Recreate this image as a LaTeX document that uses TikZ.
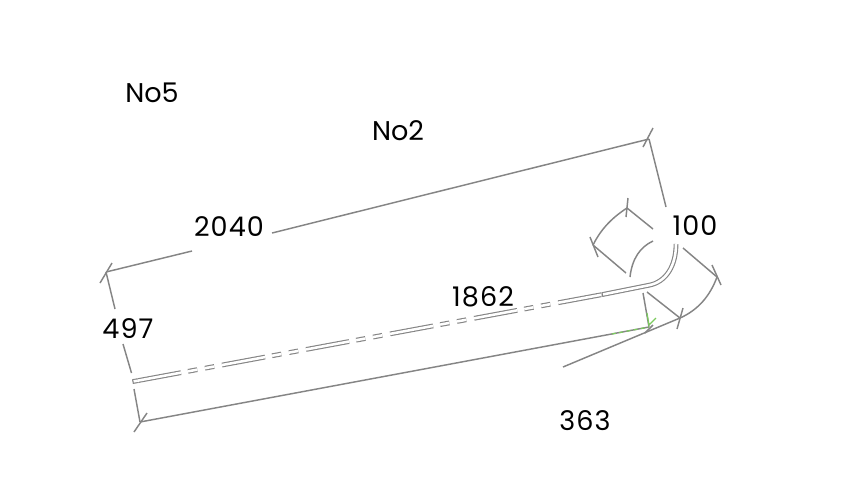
\documentclass[tikz,border=0pt]{standalone}
\usepackage{fontspec}
\setmainfont{Poppins}
\newfontfamily\numfont[LetterSpace=4]{Poppins}
\usetikzlibrary{calc}
\definecolor{dimgray}{HTML}{858585}
\definecolor{markgreen}{HTML}{7CCB5E}
\tikzstyle{dim} = [draw=dimgray,line width=1.1pt]
\tikzstyle{pipe} = [draw=dimgray,line width=0.85pt,double=white,double distance=1.9pt]
\tikzstyle{lbl} = [font=\fontsize{20.3}{21}\selectfont,text=black,inner sep=0pt]
\tikzstyle{num} = [lbl,font=\fontsize{20.3}{21}\selectfont\numfont]

\begin{document}
\begin{tikzpicture}[x=.75pt,y=-.75pt]
        \useasboundingbox (0,0) rectangle (848,480);

        \coordinate (tl) at (106,272);
        \coordinate (tr) at (649,139);
        \coordinate (bl) at (140,422);
        \coordinate (br) at (649,327);
        \coordinate (pa) at (133,381.5);
        \coordinate (pb) at (138,380.6);
        \coordinate (pc) at (602,294.6);
        \coordinate (pd) at (676,244);
        \coordinate (ua) at (627,208);
        \coordinate (ub) at (593,245);
        \coordinate (ra) at (680,318);
        \coordinate (rb) at (717,277);

        % outer dimension
        \draw[dim] (tl) to (192,251);
        \draw[dim] (272,233) to (tr);
        \draw[dim] (tr) to (666,207);
        \draw[dim] (tl) to (115,309);
        \draw[dim] (123,344) to (131.5,373);
        \draw[dim] (134,389) to (bl);
        \draw[dim] (bl) to (br);
        \draw[dim] (643,293) to (br);

        % pipe
        \draw[pipe] (pa) to (pb);
        \draw[pipe,dash pattern=on 32.8pt off 5.4pt on 7pt off 5.9pt on 7pt off 6pt] (pb) to (pc);
        \draw[pipe] (pc) to (649,285.2) .. controls (666,282) and (676,266) .. (pd);
        \draw[dim,line width=.85pt] (132.6,379.3) to (133.4,383.8);
        \draw[dim,line width=.85pt] (602,292.6) to (602.6,296.6);

        % bend dimensions
        \draw[dim] (ua) to (653,229);
        \draw[dim] (ua) .. controls (610,219) and (600,231) .. (ub);
        \draw[dim] (ub) to (626,273);
        \draw[dim] (653,241) .. controls (640,247) and (632,259) .. (630,277);
        \draw[dim] (647,292) to (ra);
        \draw[dim] (683,248) to (rb);
        \draw[dim] (563,367) to (ra);
        \draw[dim] (ra) .. controls (698,310) and (710,296) .. (rb);

        % ticks
        \foreach \xa/\ya/\xb/\yb in {100/283/112/263,134/432/147/413,643/147/653/128,
                                     628/198/626/217,590/237/598/257,677/329/683/308,
                                     712/265/721/285,645/333/653/325}{
                \draw[dim] (\xa,\ya) to (\xb,\yb);
        }

        % marker
        \draw[markgreen,line width=.9pt,dash pattern=on 3pt off 2.5pt] (612,334) to (br);
        \draw[markgreen,line width=.9pt] (647,313) to (649,325) to (656,318);

        \node[lbl] (no5) at (152,93) {No5};
        \node[lbl] (no2) at (398,131) {No2};
        \node[num] (len) at (229,227) {2040};
        \node[num] (rad) at (695,226) {100};
        \node[num] (mid) at (483,297) {1862};
        \node[num] (wid) at (128,329) {497};
        \node[num] (arc) at (585,421) {363};
\end{tikzpicture}
\end{document}
